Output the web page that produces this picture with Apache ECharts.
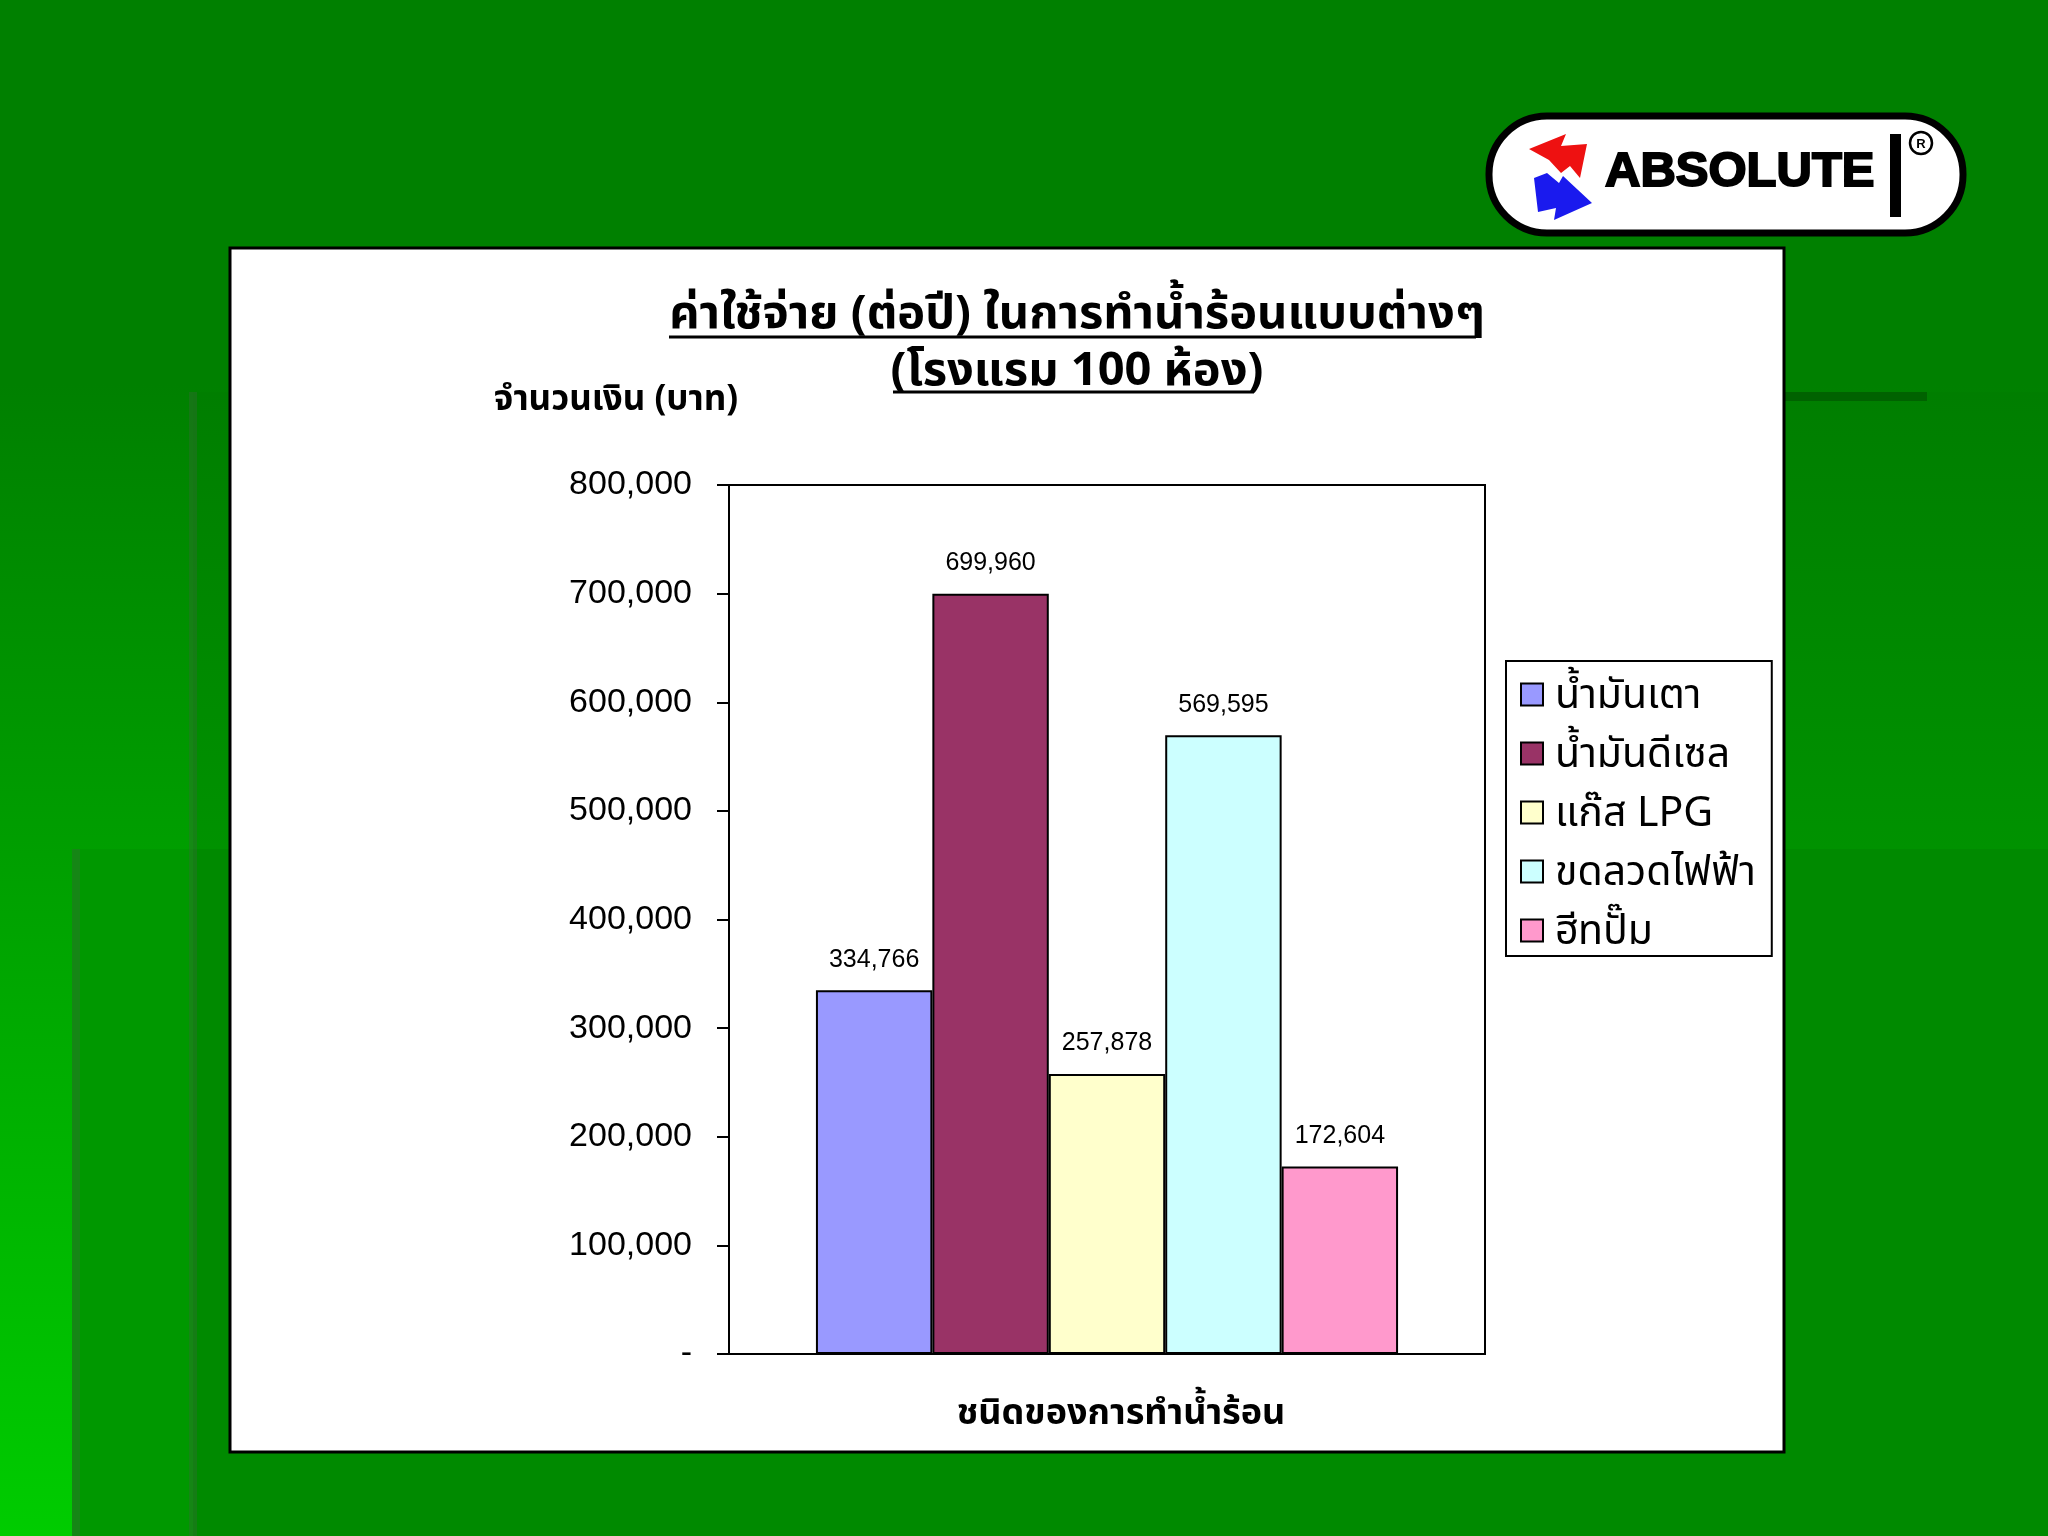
<!DOCTYPE html>
<html>
<head>
<meta charset="utf-8">
<script src="https://cdn.jsdelivr.net/npm/echarts@6/dist/echarts.min.js"></script>
<style>
html,body{margin:0;padding:0;background:#008000;}
#chart{width:2048px;height:1536px;}
</style>
</head>
<body>
<div id="chart"></div>
<script>
// ---- data ----
var categories = [''];
var seriesNames = ['น้ำมันเตา', 'น้ำมันดีเซล', 'แก๊ส LPG', 'ขดลวดไฟฟ้า', 'ฮีทปั๊ม'];
var seriesValues = [334766, 699960, 257878, 569595, 172604];
var seriesColors = ['#9999FF', '#993366', '#FFFFCC', '#CCFFFF', '#FF99CC'];
var yTicks = [0, 100000, 200000, 300000, 400000, 500000, 600000, 700000, 800000];
var titleLines = ['ค่าใช้จ่าย (ต่อปี) ในการทำน้ำร้อนแบบต่างๆ', '(โรงแรม 100 ห้อง)'];
var yAxisTitle = 'จำนวนเงิน (บาท)';
var xAxisTitle = 'ชนิดของการทำน้ำร้อน';

var thaiFont = "'Noto Sans Thai', 'Noto Sans Thai UI', 'Loma', 'Garuda', 'Noto Sans', 'DejaVu Sans', sans-serif";
var numFont = "'Liberation Sans', Arial, sans-serif";

function fmt(v) {
  if (v === 0) return '-';
  return v.toLocaleString('en-US');
}

var series = seriesNames.map(function (name, i) {
  return {
    name: name,
    type: 'bar',
    data: [seriesValues[i]],
    barGap: '0%',
    barCategoryGap: '23%',
    itemStyle: { color: seriesColors[i], borderColor: '#000', borderWidth: 2 },
    label: {
      show: true, position: 'top', distance: 18,
      fontFamily: numFont, fontSize: 25, color: '#000',
      formatter: function (p) { return fmt(p.value); }
    }
  };
});

var chart = echarts.init(document.getElementById('chart'), null, { renderer: 'canvas' });

var graphics = [
  // background base gradient
  { type: 'rect', z: -10, shape: { x: 0, y: 0, width: 2048, height: 1536 },
    style: { fill: new echarts.graphic.LinearGradient(0, 0, 0, 1, [
      { offset: 0, color: '#008000' }, { offset: 0.25, color: '#008000' }, { offset: 1, color: '#00cc00' }]) } },
  // upper overlay block
  { type: 'rect', z: -9, shape: { x: 193, y: 392, width: 1855, height: 457 },
    style: { fill: new echarts.graphic.LinearGradient(0, 0, 0, 1, [
      { offset: 0, color: '#007e00' }, { offset: 1, color: '#009200' }]) } },
  // lower overlay block
  { type: 'rect', z: -9, shape: { x: 72, y: 849, width: 121, height: 687 },
    style: { fill: '#009800' } },
  { type: 'rect', z: -9, shape: { x: 193, y: 849, width: 1855, height: 687 },
    style: { fill: '#008a00' } },
  // edge shadows
  { type: 'rect', z: -8, shape: { x: 189, y: 392, width: 8, height: 1144 },
    style: { fill: 'rgba(60,100,60,0.35)' } },
  { type: 'rect', z: -8, shape: { x: 72, y: 849, width: 8, height: 687 },
    style: { fill: 'rgba(60,100,60,0.35)' } },
  { type: 'rect', z: -8, shape: { x: 1784, y: 392, width: 143, height: 9 },
    style: { fill: '#006200' } },
  // white panel
  { type: 'rect', z: -5, shape: { x: 230, y: 248, width: 1554, height: 1204 },
    style: { fill: '#ffffff', stroke: '#000', lineWidth: 3 } },
  // title underlines
  { type: 'line', z: 5, shape: { x1: 669, y1: 337, x2: 1476, y2: 337 }, style: { stroke: '#000', lineWidth: 3 } },
  { type: 'line', z: 5, shape: { x1: 893, y1: 392, x2: 1254, y2: 392 }, style: { stroke: '#000', lineWidth: 3 } },
  // logo
  { type: 'rect', z: 5, shape: { x: 1489, y: 116, width: 474, height: 117, r: 58 },
    style: { fill: '#ffffff', stroke: '#000', lineWidth: 7 } },
  { type: 'polygon', z: 6, shape: { points: [[1529,149],[1566,134],[1561,146],[1587,144],[1580,178],[1570,166],[1561,173],[1549,160]] },
    style: { fill: '#ee1111' } },
  { type: 'polygon', z: 6, shape: { points: [[1534,178],[1547,173],[1559,183],[1563,176],[1592,203],[1554,220],[1556,208],[1538,212]] },
    style: { fill: '#1a1aee' } },
  { type: 'text', z: 6, style: { x: 1605, y: 172, text: 'ABSOLUTE', fill: '#000', stroke: '#000', lineWidth: 2,
    font: "bold 49px 'Liberation Sans', Arial, sans-serif", textVerticalAlign: 'middle', textAlign: 'left' } },
  { type: 'rect', z: 6, shape: { x: 1890, y: 134, width: 11, height: 83 }, style: { fill: '#000' } },
  { type: 'circle', z: 6, shape: { cx: 1921, cy: 143, r: 11 }, style: { fill: '#fff', stroke: '#000', lineWidth: 2.5 } },
  { type: 'text', z: 7, style: { x: 1921, y: 144, text: 'R', fill: '#000',
    font: "bold 13px 'Liberation Sans', Arial, sans-serif", textVerticalAlign: 'middle', textAlign: 'center' } }
];

var option = {
  animation: false,
  title: {
    text: titleLines.join('\n'),
    left: 1072, top: 285, textAlign: 'center',
    textStyle: { fontFamily: thaiFont, fontWeight: 'bold', fontSize: 47, lineHeight: 57, color: '#000' }
  },
  legend: {
    orient: 'vertical', left: 1506, top: 661,
    data: seriesNames,
    backgroundColor: '#fff', borderColor: '#000', borderWidth: 2,
    padding: [8, 16, 0, 14], itemGap: 8, itemWidth: 22, itemHeight: 22,
    formatter: function (name) { return '{t|' + name + '}'; },
    textStyle: {
      fontFamily: thaiFont, fontSize: 41, color: '#000',
      rich: { t: { fontFamily: thaiFont, fontSize: 41, lineHeight: 40, color: '#000', padding: [10, 0, 0, 7] } }
    },
    itemStyle: { borderColor: '#000', borderWidth: 2 },
    icon: 'rect'
  },
  grid: { left: 729, top: 485, right: 563, bottom: 182, show: true, borderColor: '#000', borderWidth: 2, backgroundColor: '#fff' },
  xAxis: {
    type: 'category', data: categories,
    name: xAxisTitle, nameLocation: 'middle', nameGap: 45,
    nameTextStyle: { fontFamily: thaiFont, fontWeight: 'bold', fontSize: 36, color: '#000', padding: [0, 0, 0, 28] },
    axisLine: { lineStyle: { color: '#000', width: 2 } },
    axisTick: { show: false }, axisLabel: { show: false }
  },
  yAxis: {
    type: 'value', min: 0, max: 800000, interval: 100000,
    name: yAxisTitle, nameLocation: 'end', nameGap: 82,
    nameTextStyle: { fontFamily: thaiFont, fontWeight: 'bold', fontSize: 35, color: '#000', align: 'center', verticalAlign: 'middle', padding: [0, 226, 0, 0] },
    axisLine: { show: true, lineStyle: { color: '#000', width: 2 } },
    axisTick: { show: true, inside: false, length: 12, lineStyle: { color: '#000', width: 2 } },
    splitLine: { show: false },
    axisLabel: { fontFamily: numFont, fontSize: 34, color: '#000', margin: 37,
      formatter: function (v) { return yTicks.indexOf(v) >= 0 ? fmt(v) : ''; } }
  },
  graphic: graphics,
  series: series
};
chart.setOption(option);
</script>
</body>
</html>
